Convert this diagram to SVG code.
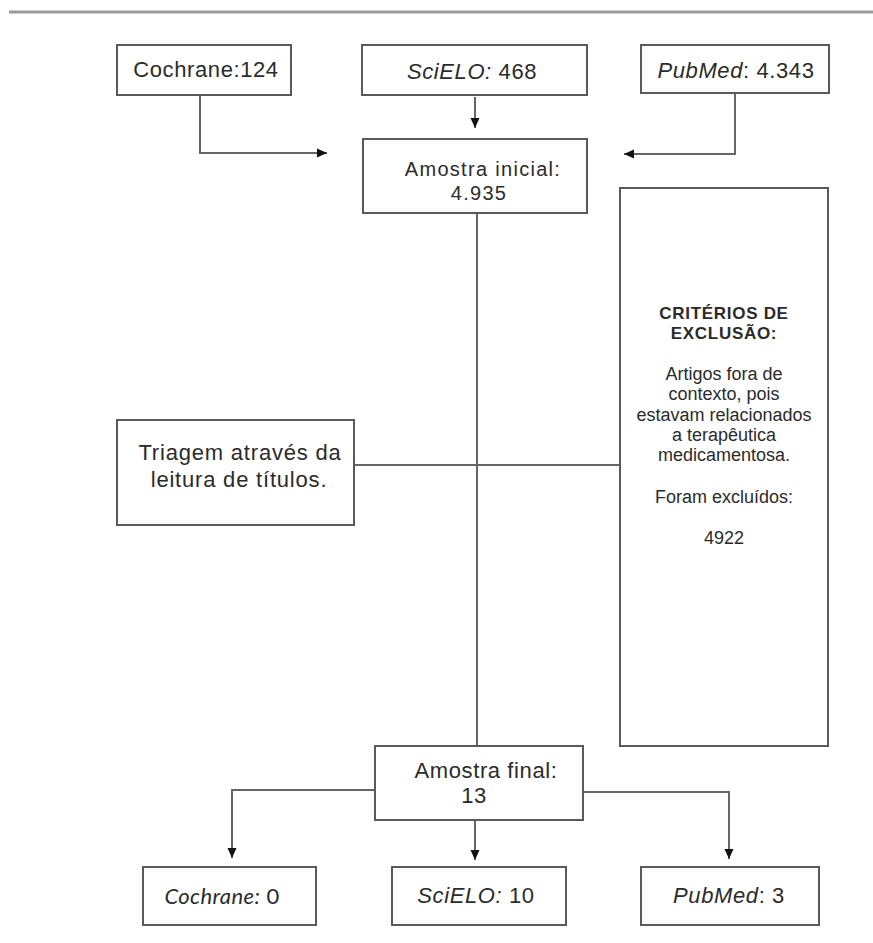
<svg xmlns="http://www.w3.org/2000/svg" width="873" height="943" viewBox="0 0 873 943">
<style>
.box{fill:#fff;stroke:#5a5a5a;stroke-width:2}
.t{font-family:"Liberation Sans",Arial,sans-serif;font-size:22px;fill:#2b2b2b;text-anchor:middle;letter-spacing:0.6px}
.n{font-size:20px;letter-spacing:1.3px}
.c{font-family:Lato,"Liberation Sans",sans-serif;font-size:22px;fill:#2b2b2b;text-anchor:middle;letter-spacing:0.4px}
.s{font-family:"Liberation Sans",Arial,sans-serif;font-size:18px;fill:#2b2b2b;text-anchor:middle}
.b{font-weight:bold;font-size:17px;letter-spacing:0.7px}
.i{font-style:italic}
.conn{fill:none;stroke:#666;stroke-width:2}
</style>
<defs>
<marker id="arr" markerUnits="userSpaceOnUse" markerWidth="10" markerHeight="10" refX="10" refY="5" orient="auto">
<path d="M0,0.5 L10,5 L0,9.5 z" fill="#111"/>
</marker>
</defs>
<line x1="9" y1="12" x2="873" y2="12" stroke="#9a9a9a" stroke-width="3"/>
<g id="connectors">
<path class="conn" d="M200,95 V153 H327" marker-end="url(#arr)"/>
<path class="conn" d="M475,97 V128" marker-end="url(#arr)"/>
<path class="conn" d="M735,93 V154 H624" marker-end="url(#arr)"/>
<path class="conn" d="M477,213 V746"/>
<path class="conn" d="M354,465 H619"/>
<path class="conn" d="M375,790 H232 V858" marker-end="url(#arr)"/>
<path class="conn" d="M475,820 V860" marker-end="url(#arr)"/>
<path class="conn" d="M583,792 H729 V859" marker-end="url(#arr)"/>
</g>
<g id="cochrane-top">
<rect class="box" x="117" y="45" width="174" height="50"/>
<text class="t" x="206" y="77">Cochrane:124</text>
</g>
<g id="scielo-top">
<rect class="box" x="362" y="45" width="225" height="50"/>
<text class="t" x="472" y="79"><tspan class="i">SciELO:</tspan> 468</text>
</g>
<g id="pubmed-top">
<rect class="box" x="641" y="45" width="188" height="48"/>
<text class="t" x="736" y="78"><tspan class="i">PubMed</tspan>: 4.343</text>
</g>
<g id="amostra-inicial">
<rect class="box" x="363" y="139" width="224" height="74"/>
<text class="t n" x="483" y="176">Amostra inicial:</text>
<text class="t n" x="479" y="200">4.935</text>
</g>
<g id="triagem">
<rect class="box" x="117" y="420" width="237" height="105"/>
<text class="t" x="240" y="460" style="letter-spacing:0.8px">Triagem através da</text>
<text class="t" x="239" y="487" style="letter-spacing:0.8px">leitura de títulos.</text>
</g>
<g id="exclusao">
<rect class="box" x="620" y="188" width="208" height="558"/>
<text class="s b" x="724" y="319">CRITÉRIOS DE</text>
<text class="s b" x="724" y="339">EXCLUSÃO:</text>
<text class="s" x="724" y="380">Artigos fora de</text>
<text class="s" x="724" y="400">contexto, pois</text>
<text class="s" x="724" y="421">estavam relacionados</text>
<text class="s" x="724" y="441">a terapêutica</text>
<text class="s" x="724" y="461">medicamentosa.</text>
<text class="s" x="724" y="503">Foram excluídos:</text>
<text class="s" x="724" y="544">4922</text>
</g>
<g id="amostra-final">
<rect class="box" x="375" y="746" width="208" height="74"/>
<text class="t" x="486" y="778">Amostra final:</text>
<text class="t" x="474" y="803">13</text>
</g>
<g id="cochrane-final">
<rect class="box" x="143" y="867" width="173" height="58"/>
<text class="c" x="222" y="904"><tspan class="i">Cochrane:</tspan> 0</text>
</g>
<g id="scielo-final">
<rect class="box" x="392" y="867" width="174" height="58"/>
<text class="t" x="476" y="903"><tspan class="i">SciELO:</tspan> 10</text>
</g>
<g id="pubmed-final">
<rect class="box" x="641" y="867" width="178" height="58"/>
<text class="t" x="729" y="903"><tspan class="i">PubMed</tspan>: 3</text>
</g>
</svg>
